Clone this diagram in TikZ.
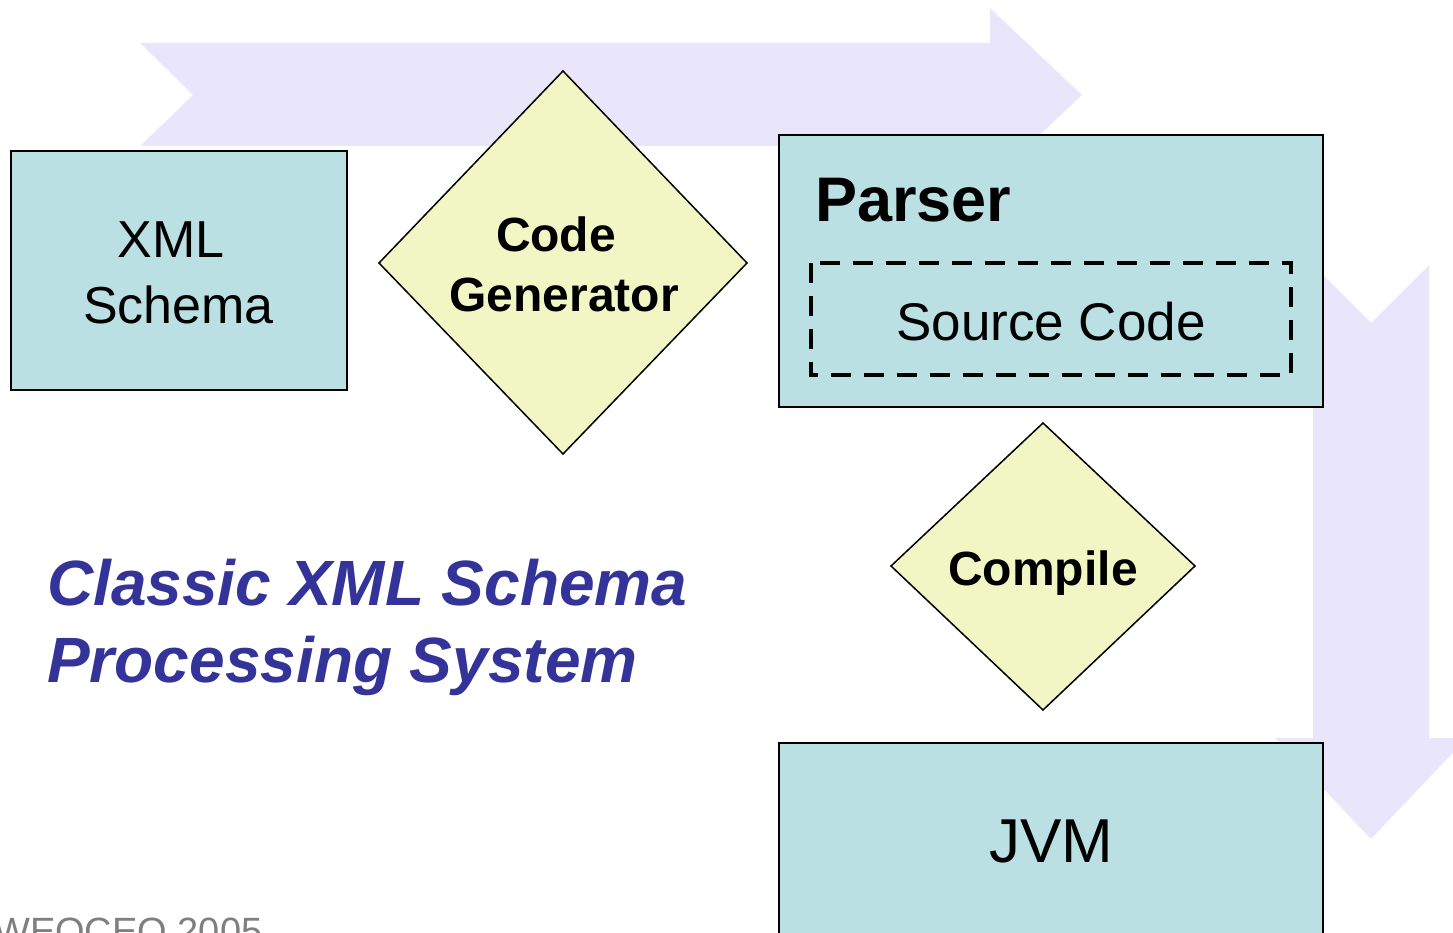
\documentclass[tikz,border=0pt]{standalone}
\usepackage{fontspec}
\setmainfont{Liberation Sans}
\definecolor{flowarrow}{HTML}{E9E6FC}
\definecolor{boxfill}{HTML}{BAE0E3}
\definecolor{diafill}{HTML}{F2F5C4}
\definecolor{titleblue}{HTML}{333399}
\definecolor{footgray}{HTML}{7F7F7F}
\tikzset{
  flow/.style={fill=flowarrow, draw=none},
  stagebox/.style={fill=boxfill, draw=black, line width=2.2pt},
  stepdia/.style={fill=diafill, draw=black, line width=1.5pt, line join=miter},
  srcbox/.style={draw=black, line width=3.5pt, dash pattern=on 20pt off 13pt},
  lbl/.style={inner sep=0pt, anchor=base, font=\fontsize{52}{52}\selectfont},
  blbl/.style={inner sep=0pt, anchor=base, font=\fontsize{48}{48}\selectfont\bfseries},
  ttl/.style={inner sep=0pt, anchor=base west, text=titleblue,
    font=\fontsize{64}{64}\selectfont\bfseries\itshape},
}
\begin{document}
\begin{tikzpicture}[x=1pt, y=-1pt]
\useasboundingbox (0,0) rectangle (1453,933);

% background flow arrows
\fill[flow] (140,43) -- (990,43) -- (990,8) -- (1082,95) -- (990,182)
  -- (990,146) -- (140,146) -- (193,95) -- cycle;
\fill[flow] (1313,265) -- (1371,323) -- (1429,265) -- (1429,738)
  -- (1467,738) -- (1371,839) -- (1275,738) -- (1313,738) -- cycle;

% XML Schema
\draw[stagebox] (11,151) rectangle (347,390);
\node[lbl] (xmlA) at (171,258) {XML};
\node[lbl] (xmlB) at (178.5,323) {Schema};

% Code Generator
\draw[stepdia] (563,71) -- (747,263) -- (563,454) -- (379,263) -- cycle;
\node[blbl] (genA) at (556,252) {Code};
\node[blbl] (genB) at (564,311) {Generator};

% Parser with source code
\draw[stagebox] (779,135) rectangle (1323,407);
\node[inner sep=0pt, anchor=base west, font=\fontsize{63}{63}\selectfont\bfseries]
  (parser) at (815,222) {Parser};
\draw[srcbox] (811,263) rectangle (1291,375);
\node[inner sep=0pt, anchor=base, font=\fontsize{53}{53}\selectfont] (src) at (1051,340) {Source Code};

% Compile
\draw[stepdia] (1043,423) -- (1195,566) -- (1043,710) -- (891,566) -- cycle;
\node[blbl] (comp) at (1043,585) {Compile};

% JVM
\draw[stagebox] (779,743) rectangle (1323,960);
\node[inner sep=0pt, anchor=base, font=\fontsize{62}{62}\selectfont] (jvm) at (1051,862) {JVM};

% title
\node[ttl] (t1) at (47,605) {Classic XML Schema};
\node[ttl] (t2) at (47,682) {Processing System};

% footer, running off the lower edge
\node[inner sep=0pt, anchor=base west, text=footgray, font=\fontsize{38}{38}\selectfont]
  (foot) at (-6,944) {WEOCEO 2005};
\end{tikzpicture}
\end{document}
